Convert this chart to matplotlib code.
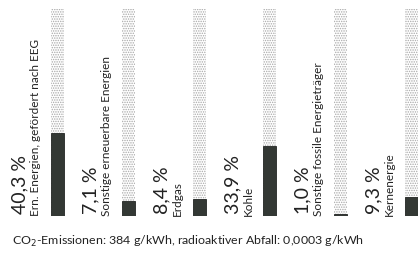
import matplotlib
matplotlib.use("Agg")
import matplotlib.pyplot as plt

categories = ["Ern. Energien, gefördert nach EEG", "Sonstige erneuerbare Energien",
              "Erdgas", "Kohle", "Sonstige fossile Energieträger", "Kernenergie"]
values = [40.3, 7.1, 8.4, 33.9, 1.0, 9.3]
value_labels = ["40,3 %", "7,1 %", "8,4 %", "33,9 %", "1,0 %", "9,3 %"]
caption = "CO$_2$-Emissionen: 384 g/kWh, radioaktiver Abfall: 0,0003 g/kWh"

plt.rcParams['font.family'] = ['Lato', 'DejaVu Sans']
plt.rcParams['hatch.linewidth'] = 0.7
plt.rcParams['hatch.color'] = '#a8a8a8'

fig = plt.figure(figsize=(4.18, 2.55), dpi=100)
ax = fig.add_axes([0, (255 - 217) / 255, 1, 207 / 255])
x = list(range(len(values)))
w = 0.185
ax.bar(x, [100] * len(values), width=w, color='white', hatch='.......',
       edgecolor='#a8a8a8', linewidth=0)
ax.bar(x, values, width=w, color='#333834', edgecolor='#232624', linewidth=0.6)
pitch = 70.8
for i in x:
    ax.text(i - 32 / pitch, 1.5, value_labels[i], rotation=90, rotation_mode='anchor',
            ha='left', va='baseline', fontsize=14, color='#222222')
    ax.text(i - 18.5 / pitch, 0.3, categories[i], rotation=90, rotation_mode='anchor',
            ha='left', va='baseline', fontsize=8.5, color='#222222')
ax.set_xlim(-57.5 / pitch, (418 - 57.5) / pitch)
ax.set_ylim(0, 100)
ax.axis('off')
fig.text(12 / 418, 1 - 241 / 255, caption, ha='left', va='center', fontsize=8.9,
         color='#222222')
fig.savefig("out.png", dpi=100)
